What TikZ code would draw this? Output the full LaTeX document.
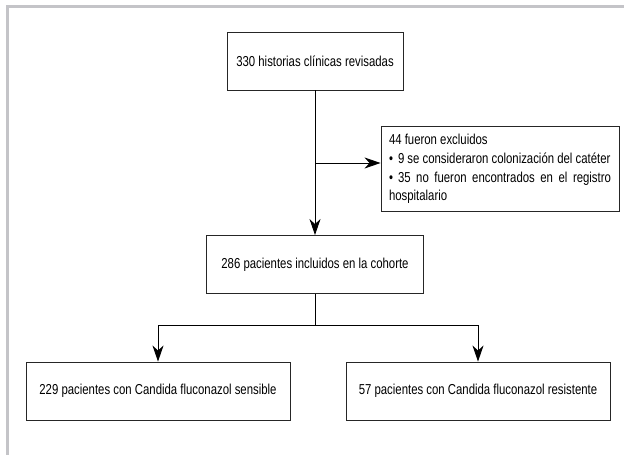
\documentclass[tikz,border=0pt]{standalone}
\usepackage{fontspec}
\setmainfont{Liberation Sans}[FakeStretch=0.79]
\usepackage{tikz}
\usetikzlibrary{arrows.meta}

\definecolor{framegray}{RGB}{196,196,200}

\tikzset{
  flowbox/.style={draw=black!85, line width=0.9pt, minimum height=58pt, inner sep=0pt,
    font=\fontsize{14.4}{18.7}\selectfont, text=black},
  exclbox/.style={flowbox, text width=222pt, align=justify, inner xsep=8pt, inner ysep=8pt},
  arr/.style={-{Stealth[length=16pt,width=11pt,inset=5pt]}, line width=0.9pt},
  link/.style={line width=0.9pt}
}

\newcommand{\bul}{\makebox[9pt][l]{\textbullet}}

\begin{document}
\begin{tikzpicture}[x=1pt,y=-1pt]

\useasboundingbox (0,0) rectangle (624,455);

%% frame
\draw[framegray, line width=3pt] (7.5,455) -- (7.5,6.5) -- (624,6.5);

%% boxes
\node[flowbox, minimum width=176pt] (hist) at (315,61) {330 historias clínicas revisadas};
\node[flowbox, minimum width=217pt] (coh) at (315,264.5) {286 pacientes incluidos en la cohorte};
\node[flowbox, minimum width=264pt] (sens) at (158,391) {229 pacientes con Candida fluconazol sensible};
\node[flowbox, minimum width=264pt] (res) at (478,391) {57 pacientes con Candida fluconazol resistente};

\node[exclbox] (excl) at (500,169) {\hyphenpenalty=10000 44 fueron excluidos\par
\hangindent=9pt\hangafter=1\bul 9 se consideraron colonización del catéter\par
\hangindent=9pt\hangafter=1\bul 35 no fueron encontrados en el registro hospitalario};

%% points on the lines
\coordinate (split) at (315,163);
\coordinate (fork) at (315,325);

%% connectors
\draw[arr] (hist.south) -- (coh.north);
\draw[arr] (split) -- (split -| excl.west);
\draw[link] (coh.south) -- (fork);
\draw[arr] (fork) -| (sens.north);
\draw[arr] (fork) -| (res.north);

\end{tikzpicture}
\end{document}
